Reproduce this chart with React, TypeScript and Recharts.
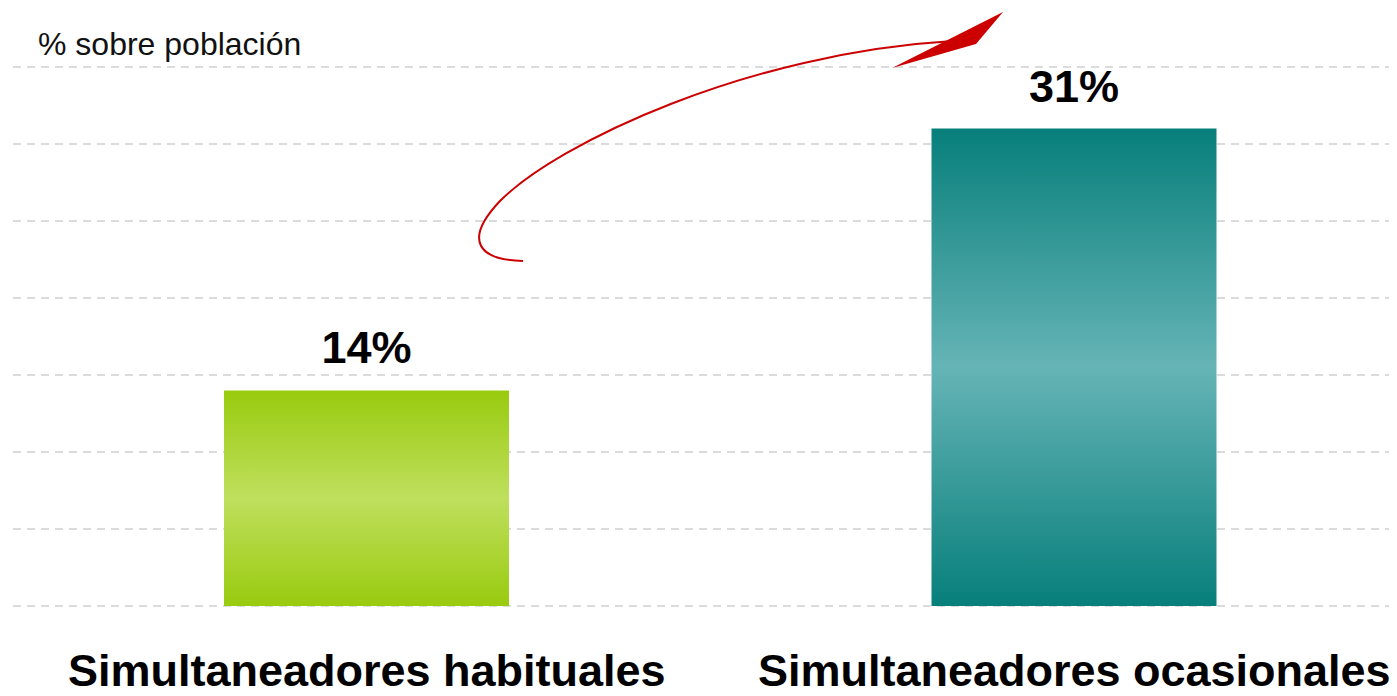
import React from 'react';
import {
  ComposedChart,
  Bar,
  Cell,
  XAxis,
  YAxis,
  CartesianGrid,
  LabelList,
  Customized,
} from 'recharts';

const categories = ['Simultaneadores habituales', 'Simultaneadores ocasionales'];
const values = [14, 31];
const yTicks = [0, 5, 10, 15, 20, 25, 30, 35];
const yTitle = '% sobre población';

const data = categories.map((name, i) => ({ name, value: values[i] }));

const FONT = '"Liberation Sans", Arial, sans-serif';

const AxisTick = (props: any) => {
  const { x, y, payload } = props;
  return (
    <text x={x} y={y} dy={80} textAnchor="middle" fontFamily={FONT} fontWeight="bold" fontSize={45} fill="#000">
      {payload.value}
    </text>
  );
};

// flecha roja decorativa + título del eje
const Decor = () => (
  <g>
    <text x={30} y={47} fontFamily={FONT} fontSize={32} fill="#111">{yTitle}</text>
    <path
      d="M515,253 C470,252 455,232 492,193 C550,135 740,45 945,33"
      fill="none"
      stroke="#cc0000"
      strokeWidth={2}
    />
    <polygon points="884,60 995,4 968,36" fill="#cc0000" />
  </g>
);

export default function App() {
  return (
    <div style={{ width: 1389, height: 688, overflow: 'hidden' }}>
      <ComposedChart
        width={1420}
        height={688}
        data={data}
        margin={{ top: 59, right: 0, left: 5, bottom: 0 }}
        barCategoryGap={211}
      >
        <defs>
          <linearGradient id="gGreen" x1="0" y1="0" x2="0" y2="1">
            <stop offset="0%" stopColor="#99cb0e" />
            <stop offset="50%" stopColor="#bfdf5e" />
            <stop offset="100%" stopColor="#99cb0e" />
          </linearGradient>
          <linearGradient id="gTeal" x1="0" y1="0" x2="0" y2="1">
            <stop offset="0%" stopColor="#077f7b" />
            <stop offset="50%" stopColor="#66b4b6" />
            <stop offset="100%" stopColor="#077f7b" />
          </linearGradient>
        </defs>
        <CartesianGrid vertical={false} stroke="#cfcfcf" strokeWidth={1.5} strokeDasharray="8 6" />
        <XAxis
          dataKey="name"
          axisLine={false}
          tickLine={false}
          tickSize={0}
          tickMargin={0}
          height={90}
          tick={<AxisTick />}
          interval={0}
        />
        <YAxis
          type="number"
          domain={[0, 35]}
          ticks={yTicks}
          interval={0}
          width={0}
          tick={{ fill: 'transparent', fontSize: 1 }}
          axisLine={false}
          tickLine={false}
        />
        <Bar dataKey="value" barSize={285} isAnimationActive={false}>
          <Cell fill="url(#gGreen)" />
          <Cell fill="url(#gTeal)" />
          <LabelList
            dataKey="value"
            position="top"
            offset={27}
            formatter={(v: any) => `${v}%`}
            style={{ fontFamily: FONT, fontWeight: 'bold', fontSize: 45, fill: '#000' }}
          />
        </Bar>
        <Customized component={Decor} />
      </ComposedChart>
    </div>
  );
}
